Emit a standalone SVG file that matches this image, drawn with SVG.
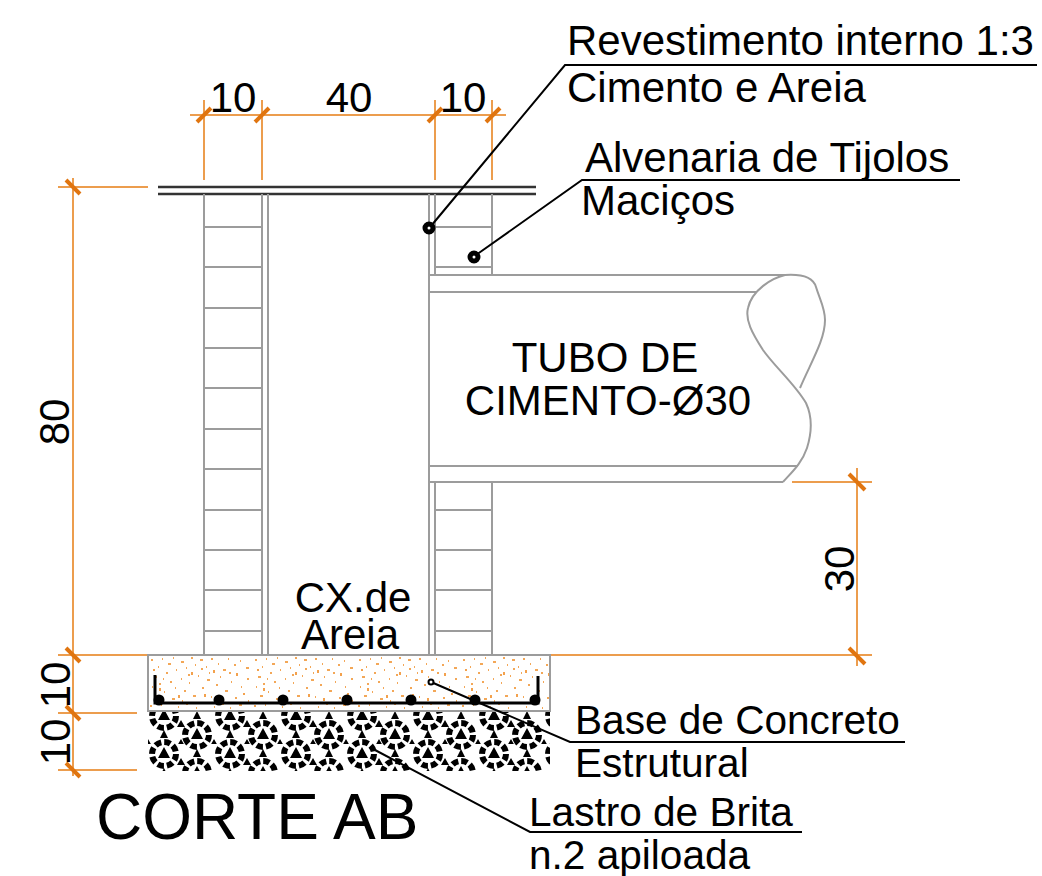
<svg xmlns="http://www.w3.org/2000/svg" xmlns:xlink="http://www.w3.org/1999/xlink" width="1042" height="876" viewBox="0 0 1042 876">
<style>
text{font-family:"Liberation Sans",Arial,sans-serif;fill:#000}
.t{font-size:42px}
.m{font-size:40.6px}
.w{stroke:#9c9c9c;stroke-width:2;fill:none}
.d{stroke:#e67e14;stroke-width:1.5;fill:none}
.k{stroke:#e07510;stroke-width:4;fill:none}
.l{stroke:#000;stroke-width:2;fill:none}
.r{stroke:#000;stroke-width:5;fill:#fff}
</style>
<defs>
<pattern id="sand" patternUnits="userSpaceOnUse" x="148" y="655" width="104" height="56">
<path stroke="#f08a20" stroke-width="1.6" fill="none" d="M3 5h2M10 12h1M6 22h3M14 4h1M20 9h3M25 3h1M18 18h2M28 15h1M33 7h3M38 13h1M43 3h2M47 10h1M52 5h3M58 12h1M63 4h2M70 9h1M75 15h3M80 4h1M86 10h2M92 6h1M98 13h3M4 32h1M11 29h2M8 41h3M16 37h1M22 27h2M27 33h1M24 44h3M33 24h1M36 36h2M41 28h1M45 41h3M50 21h1M54 33h2M59 25h3M63 42h1M68 30h2M72 22h1M77 36h3M83 27h1M87 43h2M93 32h1M99 24h2M2 51h2M13 50h1M19 48h3M30 52h1M38 49h2M48 53h1M56 48h3M66 52h1M74 49h2M82 53h1M91 50h3M100 46h1M31 40v3M44 17v3M66 15v3M12 33v3M89 18v3M57 39v3M96 38v2M6 14v2M72 43v3M40 20h2M61 18h1M81 18h2M15 24h1M34 46h1M53 14h2"/>
</pattern>
<pattern id="brita" patternUnits="userSpaceOnUse" x="148" y="706" width="66" height="38">
<g fill="none" stroke="#000" stroke-width="6" stroke-dasharray="6.4 3">
<circle cx="16" cy="10" r="12"/><circle cx="49" cy="29" r="12"/><circle cx="16" cy="48" r="12"/><circle cx="49" cy="-9" r="12"/>
</g>
<path fill="#000" d="M16 3L22 14H10ZM49 22L55 33H43ZM49 5L53 13H45ZM16 24L20 32H12ZM33 14L37 21H29ZM0 33L4 40H-4ZM66 33L70 40H62ZM33 33L37 40H29Z"/>
</pattern>
</defs>

<g id="connectors">
<path class="d" d="M190 115H506M204 100V180M262 100V180M435 100V180M492 100V180"/>
<path class="d" d="M73 178V776M58 187H148M58 655H148M58 713H137M58 770H137"/>
<path class="d" d="M857 468V666M792 482H872M545 655H872"/>
<path class="k" d="M197 122L211 108M255 122L269 108M428 122L442 108M486 122L500 108"/>
<path class="k" d="M66 180L80 194M66 648L80 662M66 706L80 720M66 763L80 777"/>
<path class="k" d="M849 474L865 490M849 648L865 664"/>
</g>

<g id="lintel">
<path d="M158 187H536M158 194H536" stroke="#333" stroke-width="2.5" fill="none"/>
</g>
<g id="wall-left">
<path class="w" d="M204 194V655M262 194V655M268 194V655M204 227H262M204 267H262M204 308H262M204 348H262M204 388H262M204 429H262M204 469H262M204 510H262M204 550H262M204 590H262M204 631H262"/>
</g>
<g id="wall-right">
<path class="w" d="M429 194V655M435 194V275M492 194V275M435 482V655M492 482V655M435 227H492M435 267H492M435 510H492M435 550H492M435 590H492M435 631H492"/>
</g>
<g id="tube">
<path class="w" d="M429 275H785M429 292H757M429 466H798M429 482H783"/>
<path class="w" d="M783 482C792 472 802 463 807 448C812 432 813 418 806 403C795 384 774 366 763 350C752 333 745 320 748 308C752 290 772 278 785 275C800 274 813 277 816 287C820 300 825 308 825 320C825 340 811 362 800 388"/>
</g>
<g id="gravel">
<rect x="148" y="712" width="402" height="59" fill="url(#brita)"/>
</g>
<g id="base">
<rect x="148" y="655" width="402" height="56" fill="#fff"/>
<rect x="148" y="655" width="402" height="56" fill="url(#sand)"/>
<rect x="148" y="655" width="402" height="56" fill="none" stroke="#9c9c9c" stroke-width="2"/>
<path d="M155 675V703H538V676" stroke="#000" stroke-width="3" fill="none"/>
<g fill="#000"><circle cx="159" cy="700" r="5.5"/><circle cx="219" cy="700" r="5.5"/><circle cx="283" cy="700" r="5.5"/><circle cx="347" cy="700" r="5.5"/><circle cx="411" cy="700" r="5.5"/><circle cx="475" cy="700" r="5.5"/><circle cx="535" cy="700" r="5.5"/></g>
</g>
<g id="leaders">
<path class="l" d="M431 226L565 65H1037M476 255L582 180H960M431 682L570 742H905M375 750L530 832H802"/>
<circle class="r" cx="429" cy="228" r="4"/>
<circle class="r" cx="474" cy="257" r="4"/>
<circle cx="431" cy="682" r="2.5" fill="#fff" stroke="#000" stroke-width="2"/>
</g>

<g id="labels">
<text class="t" x="567" y="55">Revestimento interno 1:3</text>
<text class="t" x="567" y="102">Cimento e Areia</text>
<text class="t" x="585" y="172">Alvenaria de Tijolos</text>
<text class="t" x="581" y="215">Maciços</text>
<text class="t" x="605" y="372" text-anchor="middle">TUBO DE</text>
<text class="t" x="608" y="415" text-anchor="middle">CIMENTO-Ø30</text>
<text class="t" x="353" y="612" text-anchor="middle">CX.de</text>
<text class="t" x="350" y="649" text-anchor="middle">Areia</text>
<text class="m" x="575" y="734">Base de Concreto</text>
<text class="m" x="575" y="777">Estrutural</text>
<text class="m" x="529" y="826">Lastro de Brita</text>
<text class="m" x="529" y="869">n.2 apiloada</text>
<text x="96" y="839" font-size="64">CORTE AB</text>
<text class="t" x="233" y="112" text-anchor="middle">10</text>
<text class="t" x="349" y="112" text-anchor="middle">40</text>
<text class="t" x="463" y="112" text-anchor="middle">10</text>
<text class="t" text-anchor="middle" transform="translate(69 422) rotate(-90)">80</text>
<text class="t" text-anchor="middle" transform="translate(854 569) rotate(-90)">30</text>
<text class="t" text-anchor="middle" transform="translate(70 685) rotate(-90)">10</text>
<text class="t" text-anchor="middle" transform="translate(70 742) rotate(-90)">10</text>
</g>
</svg>
